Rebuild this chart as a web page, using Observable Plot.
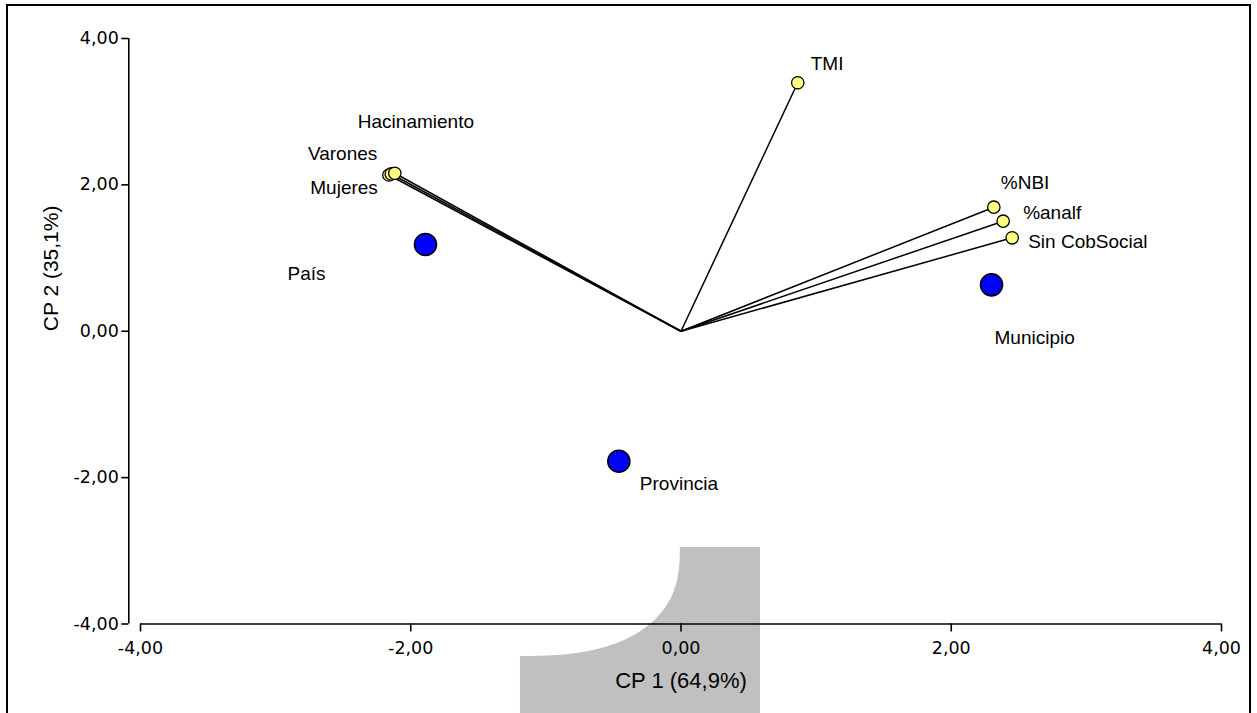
<!DOCTYPE html>
<html><head><meta charset="utf-8">
<script src="https://cdn.jsdelivr.net/npm/d3@7"></script>
<script src="https://cdn.jsdelivr.net/npm/@observablehq/plot@0.6"></script>
<style>
html,body{margin:0;padding:0;background:#fff;overflow:hidden;}
#wrap{position:relative;width:1257px;height:713px;}
#border{position:absolute;left:6px;top:4px;width:1245px;height:780px;border:2px solid #000;box-sizing:border-box;pointer-events:none;}
</style></head><body><div id="wrap"><div id="chart"></div><div id="border"></div></div>
<script>
// Variables (vectors, yellow)
const variables = ["Mujeres", "Varones", "Hacinamiento", "TMI", "%NBI", "%analf", "Sin CobSocial"];
const varCP1 = [-2.162, -2.144, -2.118, 0.864, 2.315, 2.384, 2.451];
const varCP2 = [2.135, 2.149, 2.159, 3.395, 1.695, 1.504, 1.277];
// Observations (blue)
const groups = ["País", "Municipio", "Provincia"];
const groupCP1 = [-1.891, 2.298, -0.460];
const groupCP2 = [1.185, 0.634, -1.776];
// Axis ticks and titles
const ticks = [-4, -2, 0, 2, 4];
const xTitle = "CP 1 (64,9%)";
const yTitle = "CP 2 (35,1%)";
// Grey overlay patch seen in the picture (data units)
const patchX = [-1.188, -1.040, -0.918, -0.770, -0.649, -0.536, -0.418, -0.308, -0.227, -0.158, -0.103, -0.048, -0.019, -0.006, -0.004, 0.588];
const patchTop = [-4.444, -4.441, -4.430, -4.403, -4.362, -4.307, -4.225, -4.116, -4.007, -3.884, -3.747, -3.542, -3.337, -3.132, -2.955, -2.955];
const patchBottom = -5.223;

const vars = variables.map((name, i) => ({name, x: varCP1[i], y: varCP2[i]}));
const obs = groups.map((name, i) => ({name, x: groupCP1[i], y: groupCP2[i]}));
const patch = patchX.map((x, i) => ({x, top: patchTop[i]}));

const fmt = d => d.toFixed(2).replace(".", ",");

// label placement offsets (px): dx, dy (baseline), anchor
const labelStyle = {
  "TMI": [13, -13, "start"],
  "Hacinamiento": [-37, -45, "start"],
  "Varones": [-14, -13.5, "end"],
  "Mujeres": [-11, 19.5, "end"],
  "%NBI": [7, -18, "start"],
  "%analf": [20, -2, "start"],
  "Sin CobSocial": [16, 10, "start"],
  "Municipio": [3, 59, "start"],
  "País": [-138, 35, "start"],
  "Provincia": [21, 29, "start"]
};
const labelFont = "'Liberation Sans', Arial, sans-serif";
const allPts = vars.concat(obs);
const labelMarks = allPts.map(p => {
  const [dx, dy, anchor] = labelStyle[p.name];
  return Plot.text([p], {x: "x", y: "y", text: "name", dx, dy, textAnchor: anchor, lineAnchor: "bottom",
    fontSize: 19, fontFamily: labelFont, fill: "#000"});
});

const chart = Plot.plot({
  width: 1257,
  height: 713,
  marginLeft: 140,
  marginRight: 36,
  marginTop: 38,
  marginBottom: 89.5,
  x: {domain: [-4, 4]},
  y: {domain: [-4, 4]},
  style: {background: "#fff", overflow: "visible"},
  marks: [
    Plot.areaY(patch, {x: "x", y1: () => patchBottom, y2: "top", fill: "#c0c0c0", curve: "monotone-x"}),
    Plot.ruleX([-4], {y1: -4, y2: 4, dx: -11.7, stroke: "#000", strokeWidth: 1.6}),
    Plot.ruleY([-4], {x1: -4, x2: 4, stroke: "#000", strokeWidth: 1.6}),
    Plot.axisY({ticks, tickFormat: fmt, tickSize: 7, tickPadding: 3, dx: -11.7, strokeWidth: 1.6,
      fontSize: 17.5, fontFamily: "'DejaVu Sans', Verdana, sans-serif", fill: "#000", label: null}),
    Plot.axisX({ticks, tickFormat: fmt, tickSize: 8, tickPadding: 9.5, strokeWidth: 1.6,
      fontSize: 17.5, fontFamily: "'DejaVu Sans', Verdana, sans-serif", fill: "#000", label: null}),
    Plot.text([xTitle], {frameAnchor: "bottom", dy: 63.5, lineAnchor: "bottom", fontSize: 22, fontFamily: labelFont, fill: "#000"}),
    Plot.text([yTitle], {frameAnchor: "left", dx: -89, rotate: -90, fontSize: 21, fontFamily: labelFont, fill: "#000"}),
    Plot.link(vars, {x1: () => 0, y1: () => 0, x2: "x", y2: "y", stroke: "#000", strokeWidth: 1.5}),
    Plot.dot(vars, {x: "x", y: "y", r: 6.2, fill: "#ffff80", stroke: "#000", strokeWidth: 1.3}),
    Plot.dot(obs, {x: "x", y: "y", r: 11, fill: "#0000ff", stroke: "#000", strokeWidth: 1.6}),
    ...labelMarks
  ]
});
document.getElementById("chart").appendChild(chart);
</script></body></html>
